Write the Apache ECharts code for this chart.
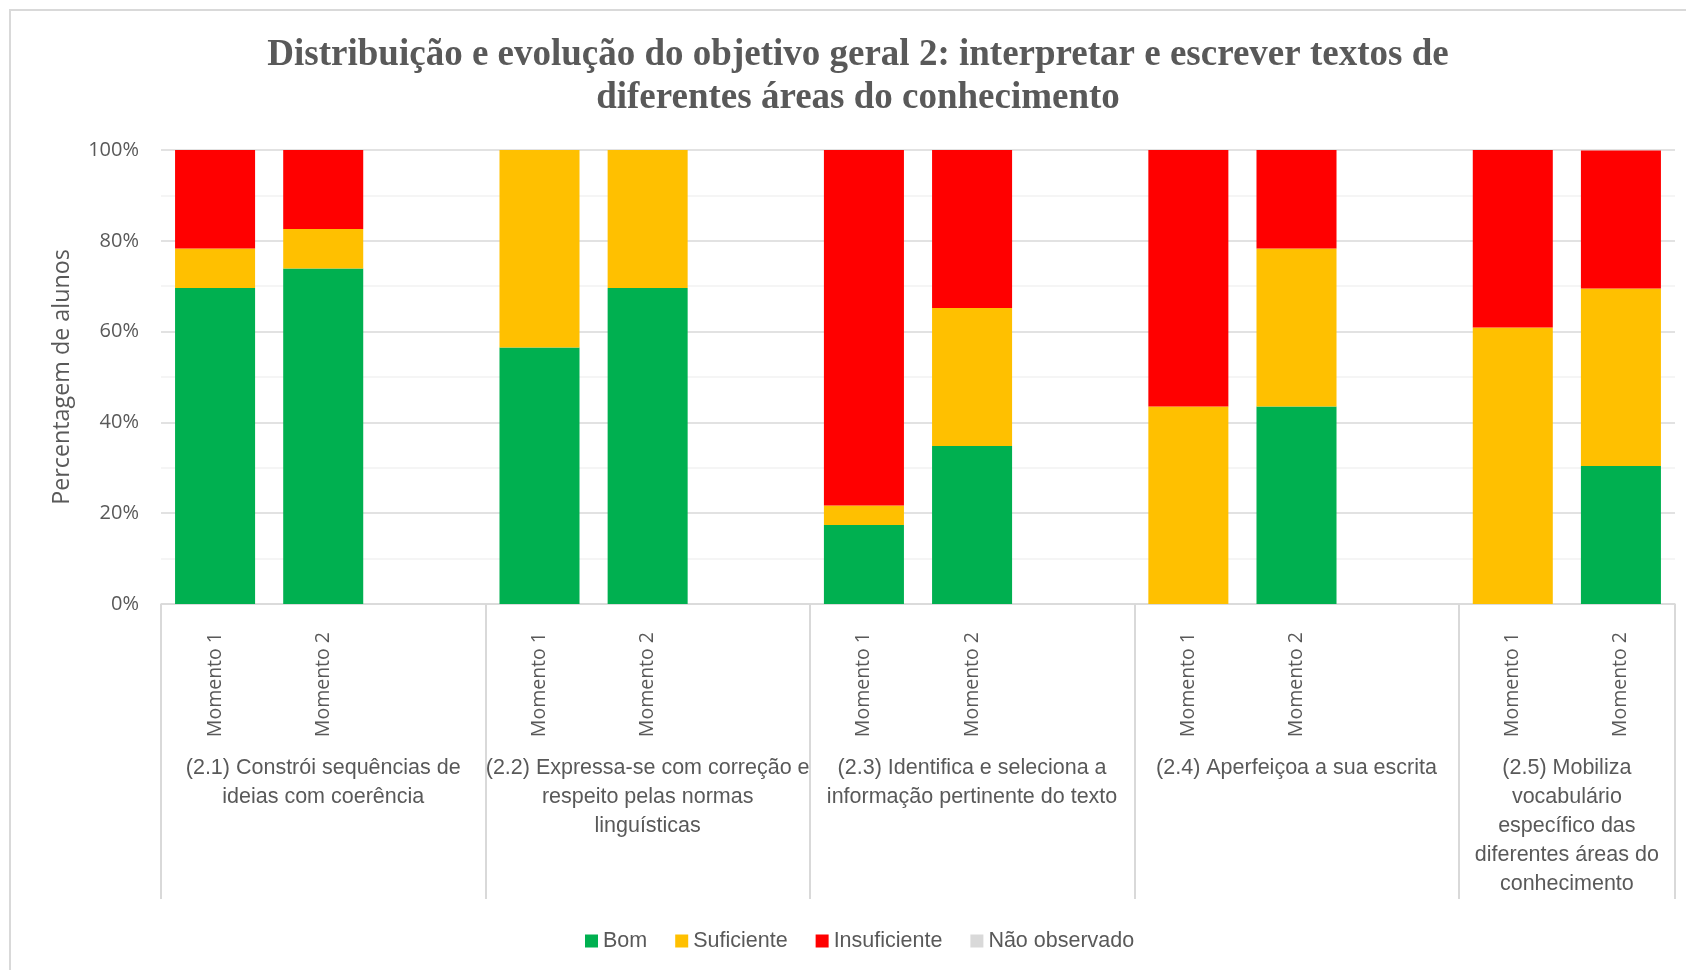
<!DOCTYPE html>
<html>
<head>
<meta charset="utf-8">
<script src="https://cdn.jsdelivr.net/npm/echarts@6/dist/echarts.min.js"></script>
<style>
  html, body { margin: 0; padding: 0; background: #fff; }
  #chart { width: 1686px; height: 970px; }
</style>
</head>
<body>
<div id="chart"></div>
<script>
// grupos (objetivos) e momentos
var groups = [
    '(2.1) Constrói sequências de\nideias com coerência',
    '(2.2) Expressa-se com correção e\nrespeito pelas normas\nlinguísticas',
    '(2.3) Identifica e seleciona a\ninformação pertinente do texto',
    '(2.4) Aperfeiçoa a sua escrita',
    '(2.5) Mobiliza\nvocabulário\nespecífico das\ndiferentes áreas do\nconhecimento'
];
var moments = ['Momento 1', 'Momento 2'];

// percentagens por barra (g1m1, g1m2, g2m1, g2m2, ...)
var bom          = [69.6, 73.9, 56.5, 69.6, 17.4, 34.8, 0,    43.5, 0,    30.4];
var suficiente   = [8.7,  8.7,  43.5, 30.4, 4.3,  30.4, 43.5, 34.8, 60.9, 39.1];
var insuficiente = [21.7, 17.4, 0,    0,    78.3, 34.8, 56.5, 21.7, 39.1, 30.4];
var naoObservado = [0,    0,    0,    0,    0,    0,    0,    0,    0,    0];

var textGrey = '#595959';
var lineGrey = '#d9d9d9';
var narrowFont = 'Liberation Sans';

// eixo de categorias: 2 momentos + 1 espaço vazio por grupo (o último sem espaço)
var cats = [];
var gapIdx = [];
groups.forEach(function (g, gi) {
    cats.push(moments[0], moments[1]);
    if (gi < groups.length - 1) { gapIdx.push(cats.length); cats.push(''); }
});
function expand(vals) {
    var out = [], k = 0;
    for (var i = 0; i < cats.length; i++) {
        out.push(gapIdx.indexOf(i) >= 0 ? '-' : vals[k++]);
    }
    return out;
}

// segundo eixo (grupos) em meios-espaços: limites e centros
var halfData = [];
var boundaries = [0];
var centers = [];
var pos = 0;
groups.forEach(function (g, gi) {
    var w = gi < groups.length - 1 ? 6 : 4;
    centers.push(pos + w / 2);
    pos += w;
    boundaries.push(pos);
});
for (var i = 0; i <= pos; i++) {
    var c = centers.indexOf(i);
    halfData.push(c >= 0 ? groups[c] : '');
}

var chart = echarts.init(document.getElementById('chart'));
var option = {
    backgroundColor: '#fff',
    animation: false,
    title: {
        text: 'Distribuição e evolução do objetivo geral 2: interpretar e escrever textos de\ndiferentes áreas do conhecimento',
        left: 853,
        top: 29,
        textAlign: 'center',
        textStyle: {
            fontFamily: 'Liberation Serif',
            fontWeight: 'bold',
            fontSize: 37,
            lineHeight: 43,
            color: textGrey
        }
    },
    legend: {
        data: ['Bom', 'Suficiente', 'Insuficiente', 'Não observado'],
        left: 580,
        top: 925,
        icon: 'rect',
        itemWidth: 13,
        itemHeight: 13,
        itemGap: 28,
        textStyle: { fontFamily: narrowFont, fontSize: 21.5, color: textGrey }
    },
    graphic: [{
        type: 'rect',
        z: -1,
        shape: { x: 10, y: 10, width: 1700, height: 1000 },
        style: { fill: 'none', stroke: lineGrey, lineWidth: 2 }
    }],
    grid: { left: 161, right: 11, top: 150, bottom: 366 },
    xAxis: [{
        type: 'category',
        data: cats,
        axisLine: { lineStyle: { color: lineGrey, width: 1.5 } },
        axisTick: { show: false },
        axisLabel: {
            interval: 0,
            rotate: 90,
            margin: 28,
            fontFamily: 'Open Sans',
            fontSize: 19.5,
            color: textGrey
        }
    }, {
        type: 'category',
        position: 'bottom',
        boundaryGap: false,
        data: halfData,
        axisLine: { show: false },
        axisTick: {
            show: true,
            interval: function (idx) { return boundaries.indexOf(idx) >= 0; },
            length: 295,
            lineStyle: { color: lineGrey, width: 2 }
        },
        axisLabel: {
            interval: 0,
            margin: 150,
            align: 'center',
            verticalAlign: 'top',
            fontFamily: narrowFont,
            fontSize: 21.5,
            lineHeight: 29,
            color: textGrey
        }
    }],
    yAxis: {
        type: 'value',
        min: 0,
        max: 100,
        interval: 20,
        name: 'Percentagem de alunos',
        nameLocation: 'middle',
        nameGap: 87,
        nameTextStyle: { fontFamily: 'Open Sans', fontSize: 23.3, color: textGrey },
        axisLine: { show: false },
        axisTick: { show: false },
        axisLabel: {
            formatter: '{value}%',
            margin: 22,
            fontFamily: 'Open Sans',
            fontSize: 20,
            color: textGrey
        },
        splitLine: { lineStyle: { color: lineGrey, width: 1.5 } },
        minorTick: { show: false, splitNumber: 2 },
        minorSplitLine: { show: true, lineStyle: { color: '#f2f2f2', width: 1.5 } }
    },
    series: [
        { name: 'Bom', type: 'bar', stack: 'total', barCategoryGap: '26%', data: expand(bom), itemStyle: { color: '#00B050' } },
        { name: 'Suficiente', type: 'bar', stack: 'total', data: expand(suficiente), itemStyle: { color: '#FFC000' } },
        { name: 'Insuficiente', type: 'bar', stack: 'total', data: expand(insuficiente), itemStyle: { color: '#FF0000' } },
        { name: 'Não observado', type: 'bar', stack: 'total', data: expand(naoObservado), itemStyle: { color: '#D9D9D9' } }
    ]
};
chart.setOption(option);
</script>
</body>
</html>
